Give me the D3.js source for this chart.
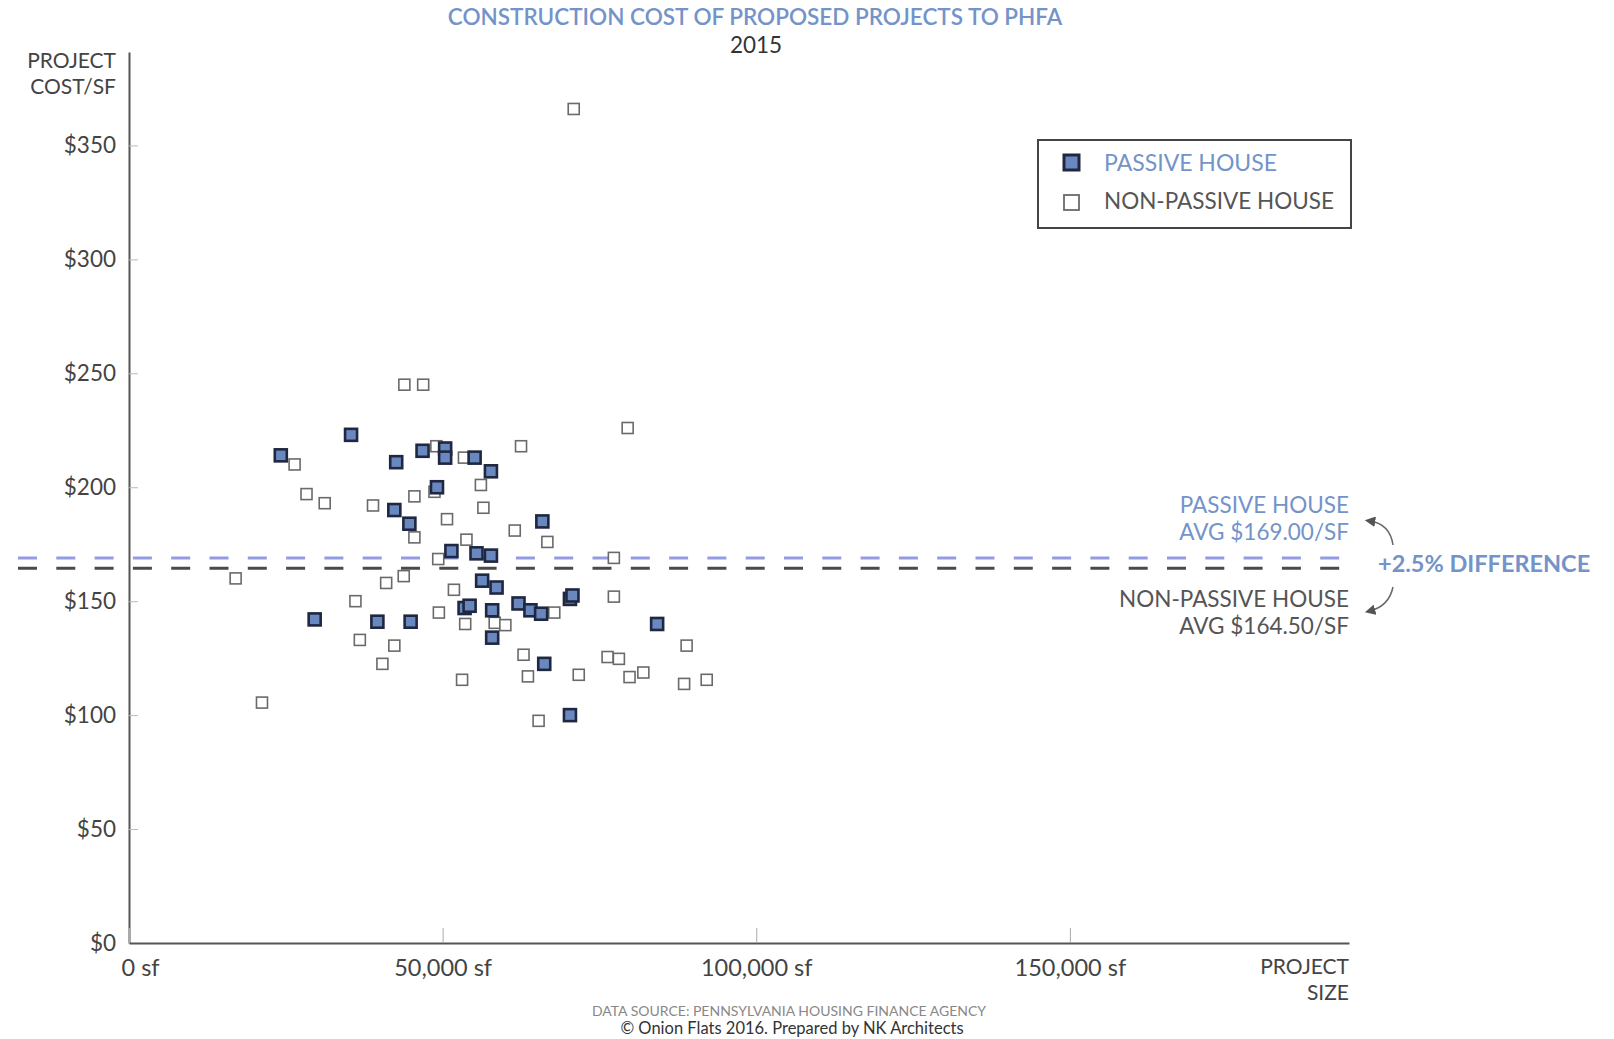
<!DOCTYPE html>
<html>
<head>
<meta charset="utf-8">
<script src="https://cdn.jsdelivr.net/npm/d3@7"></script>
<style>
  html, body { margin: 0; padding: 0; background: #fff; }
  svg { display: block; font-family: Lato, "Open Sans", sans-serif; }
</style>
</head>
<body>
<svg id="chart" width="1614" height="1039"></svg>
<script>
// ---- DATA ----
const passiveX = [24200, 29600, 35400, 39600, 42600, 42300, 44700, 44900, 46800, 49100, 50400, 50400, 55100, 57700, 51400, 55400, 57700, 56300, 58600, 53500, 54300, 57900, 57900, 62100, 64000, 65700, 65900, 70300, 70700, 66200, 70300, 84200];
const passiveY = [214, 142, 223, 141, 211, 190, 184, 141, 216, 200, 217, 213, 213, 207, 172, 171, 170, 159, 156, 147, 148, 146, 134, 149, 146, 144.5, 185, 151, 152.5, 122.5, 100, 140];

const nonPassiveX = [70900, 43900, 46900, 79500, 62500, 49000, 53400, 26400, 48700, 56100, 28300, 31200, 38900, 45500, 56500, 50700, 45500, 61500, 66700, 53800, 77300, 49300, 17000, 43800, 41000, 51800, 36100, 49400, 53600, 58300, 60000, 67800, 77300, 36800, 42300, 40400, 62900, 76300, 78100, 88900, 53100, 63600, 71700, 79800, 82000, 88500, 92100, 65300, 21200];
const nonPassiveY = [366, 245, 245, 226, 218, 218, 213, 210, 198, 201, 197, 193, 192, 196, 191, 186, 178, 181, 176, 177, 169, 168.5, 160, 161, 158, 155, 150, 145, 140, 140.5, 139.5, 145, 152, 133, 130.5, 122.5, 126.5, 125.5, 124.7, 130.5, 115.5, 117, 117.7, 116.7, 118.7, 113.7, 115.5, 97.5, 105.5];

const yTickValues = [0, 50, 100, 150, 200, 250, 300, 350];
const xTickValues = [0, 50000, 100000, 150000];
const averages = [169.0, 164.5]; // passive, non-passive
const averageLabels = [["PASSIVE HOUSE", "AVG $169.00/SF"], ["NON-PASSIVE HOUSE", "AVG $164.50/SF"]];
const differenceLabel = "+2.5% DIFFERENCE";

const titleText = "CONSTRUCTION COST OF PROPOSED PROJECTS TO PHFA";
const subtitleText = "2015";
const legendLabels = ["PASSIVE HOUSE", "NON-PASSIVE HOUSE"];

// ---- LAYOUT ----
const svg = d3.select("#chart");
const plot = { left: 129, right: 1349, top: 52, bottom: 943 };
const blue = "#7393c9";
const gray = "#555";

const x = d3.scaleLinear().domain([0, 194500]).range([plot.left, plot.right]);
const y = d3.scaleLinear().domain([0, 391]).range([plot.bottom, plot.top]);

// Title
svg.append("text").attr("x", 755).attr("y", 25).attr("text-anchor", "middle")
  .attr("font-size", 22.5).attr("fill", blue).attr("font-weight", 600).text(titleText);
svg.append("text").attr("x", 756).attr("y", 53).attr("text-anchor", "middle")
  .attr("font-size", 22.5).attr("fill", "#333").text(subtitleText);

// Y axis
const yAxis = d3.axisLeft(y).tickValues(yTickValues).tickSizeInner(-9).tickSizeOuter(0).tickPadding(13)
  .tickFormat(d => "$" + d);
const gy = svg.append("g").attr("transform", `translate(${plot.left},0)`).call(yAxis);
gy.select(".domain").attr("stroke", gray).attr("stroke-width", 2);
gy.selectAll(".tick line").attr("stroke", "#bbb").attr("stroke-width", 1);
gy.selectAll(".tick text").attr("font-size", 22.5).attr("fill", "#444").attr("font-family", "Lato");

// X axis
const xAxis = d3.axisBottom(x).tickValues(xTickValues).tickSizeInner(-15).tickSizeOuter(0).tickPadding(16)
  .tickFormat(d => d3.format(",")(d) + " sf");
const gx = svg.append("g").attr("transform", `translate(0,${plot.bottom})`).call(xAxis);
gx.select(".domain").attr("stroke", gray).attr("stroke-width", 2);
gx.selectAll(".tick line").attr("stroke", "#aaa").attr("stroke-width", 1);
gx.selectAll(".tick text").attr("font-size", 23.5).attr("fill", "#444").attr("font-family", "Lato");
gx.selectAll(".tick text").filter(d => d === 0).attr("text-anchor", "start").attr("x", -8);

// Axis titles
const yt = svg.append("text").attr("text-anchor", "end").attr("font-size", 21).attr("fill", "#444");
yt.append("tspan").attr("x", 116).attr("y", 68).text("PROJECT");
yt.append("tspan").attr("x", 116).attr("y", 94).text("COST/SF");
const xt = svg.append("text").attr("text-anchor", "end").attr("font-size", 21).attr("fill", "#444");
xt.append("tspan").attr("x", plot.right).attr("y", 974).text("PROJECT");
xt.append("tspan").attr("x", plot.right).attr("y", 1000).text("SIZE");

// Average dashed lines
const avgColors = ["#959be0", "#4a4a4a"];
svg.selectAll(".avg").data(averages).enter().append("line")
  .attr("x1", 18).attr("x2", plot.right)
  .attr("y1", d => y(d)).attr("y2", d => y(d))
  .attr("stroke", (d, i) => avgColors[i]).attr("stroke-width", 3)
  .attr("stroke-dasharray", "19,19.3");

// Points
const nonPassive = nonPassiveX.map((v, i) => ({ x: v, y: nonPassiveY[i] }));
const passive = passiveX.map((v, i) => ({ x: v, y: passiveY[i] }));
const sN = 11, sP = 12;
svg.append("g").selectAll("rect").data(nonPassive).enter().append("rect")
  .attr("x", d => x(d.x) - sN / 2).attr("y", d => y(d.y) - sN / 2)
  .attr("width", sN).attr("height", sN)
  .attr("fill", "#fff").attr("stroke", "#6a6a6a").attr("stroke-width", 1.6);
svg.append("g").selectAll("rect").data(passive).enter().append("rect")
  .attr("x", d => x(d.x) - sP / 2).attr("y", d => y(d.y) - sP / 2)
  .attr("width", sP).attr("height", sP)
  .attr("fill", "#6a88c0").attr("stroke", "#1f2840").attr("stroke-width", 2.6);

// Legend
svg.append("rect").attr("x", 1038).attr("y", 140).attr("width", 313).attr("height", 88)
  .attr("fill", "#fff").attr("stroke", "#444").attr("stroke-width", 2);
svg.append("rect").attr("x", 1064).attr("y", 155).attr("width", 15).attr("height", 15)
  .attr("fill", "#6a88c0").attr("stroke", "#1f2840").attr("stroke-width", 3);
svg.append("rect").attr("x", 1064).attr("y", 195).attr("width", 15).attr("height", 15)
  .attr("fill", "#fff").attr("stroke", "#6a6a6a").attr("stroke-width", 1.8);
svg.append("text").attr("x", 1104).attr("y", 171).attr("font-size", 23).attr("fill", blue).text(legendLabels[0]);
svg.append("text").attr("x", 1104).attr("y", 209).attr("font-size", 22.5).attr("fill", gray).text(legendLabels[1]);

// Annotations
const a1 = svg.append("text").attr("text-anchor", "end").attr("font-size", 22.5).attr("fill", blue);
a1.append("tspan").attr("x", plot.right).attr("y", 513).text(averageLabels[0][0]);
a1.append("tspan").attr("x", plot.right).attr("y", 540).text(averageLabels[0][1]);
const a2 = svg.append("text").attr("text-anchor", "end").attr("font-size", 22.5).attr("fill", gray);
a2.append("tspan").attr("x", plot.right).attr("y", 607).text(averageLabels[1][0]);
a2.append("tspan").attr("x", plot.right).attr("y", 634).text(averageLabels[1][1]);
svg.append("text").attr("x", 1378).attr("y", 572).attr("font-size", 23.5).attr("font-weight", 700)
  .attr("fill", blue).text(differenceLabel);

// Curved arrows
const defs = svg.append("defs");
defs.append("marker").attr("id", "ah").attr("viewBox", "0 0 10 10").attr("refX", 5).attr("refY", 5)
  .attr("markerWidth", 7).attr("markerHeight", 7).attr("orient", "auto-start-reverse")
  .append("path").attr("d", "M0,0 L10,5 L0,10 z").attr("fill", "#555");
svg.append("path").attr("d", "M1370,521 Q1390,524 1393,545")
  .attr("fill", "none").attr("stroke", "#666").attr("stroke-width", 1.5)
  .attr("marker-start", "url(#ah)");
svg.append("path").attr("d", "M1393,587 Q1389,606 1370,611")
  .attr("fill", "none").attr("stroke", "#666").attr("stroke-width", 1.5)
  .attr("marker-end", "url(#ah)");

// Footer
svg.append("text").attr("x", 789).attr("y", 1016).attr("text-anchor", "middle")
  .attr("font-size", 14).attr("fill", "#888").text("DATA SOURCE: PENNSYLVANIA HOUSING FINANCE AGENCY");
svg.append("text").attr("x", 792).attr("y", 1034).attr("text-anchor", "middle")
  .attr("font-size", 16.5).attr("fill", "#333").text("© Onion Flats 2016. Prepared by NK Architects");
</script>
</body>
</html>
